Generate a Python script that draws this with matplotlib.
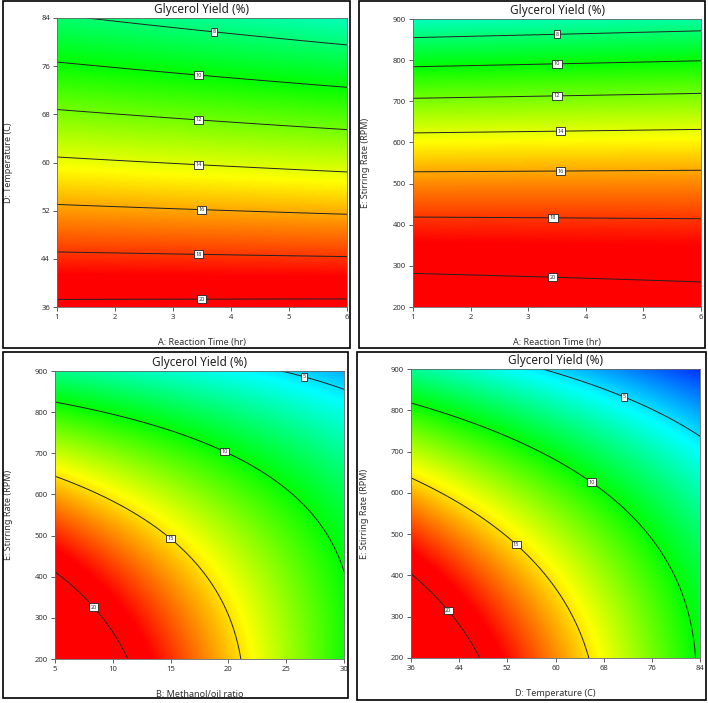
import numpy as np
import matplotlib
matplotlib.use("Agg")
import matplotlib.pyplot as plt
from matplotlib.colors import LinearSegmentedColormap
from matplotlib.patches import Rectangle

plt.rcParams['font.family'] = ['Noto Sans', 'DejaVu Sans']

# Response-surface model coefficients (coded units, -1..+1)
# term order: [const, x, y, x*y, y^2, x^2]
coef_AD = [13.893, -0.339, -6.457, -0.370, 0.001, 0.0]    # x = A: Reaction Time, y = D: Temperature
coef_AE = [15.618, 0.048, -6.931, 0.213, -1.781, 0.0]    # x = A: Reaction Time, y = E: Stirring Rate
coef_BE = [13.273, -4.072, -5.414, 2.347, -1.841, -0.122]  # x = B: Methanol/oil, y = E: Stirring Rate
coef_DE = [12.431, -4.709, -5.895, 1.945, -1.786, -0.099]  # x = D: Temperature, y = E: Stirring Rate

range_A = (1, 6)
range_B = (5, 30)
range_D = (36, 84)
range_E = (200, 900)

levels_top = [8, 10, 12, 14, 16, 18, 20]
levels_bottom = [5, 10, 15, 20]

ticks_A = [1, 2, 3, 4, 5, 6]
ticks_B = [5, 10, 15, 20, 25, 30]
ticks_D = [36, 44, 52, 60, 68, 76, 84]
ticks_E = [200, 300, 400, 500, 600, 700, 800, 900]

title = 'Glycerol Yield (%)'
label_A = 'A: Reaction Time (hr)'
label_B = 'B: Methanol/oil ratio'
label_D = 'D: Temperature (C)'
label_E = 'E: Stirring Rate (RPM)'

W, H = 708, 703
fig = plt.figure(figsize=(W/100, H/100), dpi=100)
cmap = LinearSegmentedColormap.from_list('de', [(0, 0, 1), (0, 1, 1), (0, 1, 0), (1, 1, 0), (1, 0, 0)])
VMIN, VMAX = 1, 19


def surface(c, x, y):
    return c[0] + c[1]*x + c[2]*y + c[3]*x*y + c[4]*y*y + c[5]*x*x


def panel(rect, xr, yr, c, levels, xticks, yticks, xlabel, ylabel, lpos, ylc, xlc):
    l, t, r, b = rect
    ax = fig.add_axes([l/W, 1-b/H, (r-l)/W, (b-t)/H])
    xs = np.linspace(xr[0], xr[1], 400)
    ys = np.linspace(yr[0], yr[1], 400)
    X, Y = np.meshgrid(xs, ys)
    Z = surface(c, (X-np.mean(xr))/(np.ptp(xr)/2), (Y-np.mean(yr))/(np.ptp(yr)/2))
    ax.imshow(Z, extent=[xr[0], xr[1], yr[0], yr[1]], origin='lower', aspect='auto',
              cmap=cmap, vmin=VMIN, vmax=VMAX, interpolation='bilinear')
    cs = ax.contour(X, Y, Z, levels=levels, colors='#222222', linewidths=0.7)
    lb = ax.clabel(cs, levels, inline=False, fontsize=4, fmt='%d', manual=lpos,
                   colors='#333333')
    for tx in lb:
        tx.set_rotation(0)
        tx.set_bbox(dict(facecolor='white', edgecolor='#222222', pad=1.0, linewidth=0.6))
    ax.set_xlim(*xr)
    ax.set_ylim(*yr)
    ax.set_xticks(xticks)
    ax.set_yticks(yticks)
    ax.tick_params(labelsize=5.5, length=3, width=0.6, colors='#444444', labelcolor='#333333', pad=2)
    for s in ax.spines.values():
        s.set_linewidth(0.6)
        s.set_color('#666666')
    ax.set_title(title, fontsize=8.5, pad=3.5, color='#222222')
    ax.set_xlabel(xlabel, fontsize=6.5, color='#333333', va='top')
    ax.set_ylabel(ylabel, fontsize=6.5, color='#333333')
    ax.xaxis.set_label_coords(0.5, xlc)
    ax.yaxis.set_label_coords(ylc, 0.5)
    return ax


panel((57, 18, 347, 307), range_A, range_D, coef_AD, levels_top, ticks_A, ticks_D, label_A, label_D,
      [(3.71, 82.2), (3.44, 75.07), (3.44, 67.6), (3.44, 60.1), (3.49, 52.7), (3.44, 45.3), (3.49, 37.8)],
      -0.152, -0.107)
panel((413, 19, 701, 307), range_A, range_E, coef_AE, levels_top, ticks_A, ticks_E, label_A, label_E,
      [(3.5, 870.8), (3.5, 799.4), (3.5, 720.8), (3.56, 635.6), (3.56, 538.3), (3.43, 424.7), (3.43, 279.6)],
      -0.149, -0.106)
panel((55, 371, 344, 659), range_B, range_E, coef_BE, levels_bottom, ticks_B, ticks_E, label_B, label_E,
      [(26.57, 889.5), (19.7, 705.5), (15.0, 493.3), (8.46, 329.5)], -0.144, -0.108)
panel((411, 369, 700, 658), range_D, range_E, coef_DE, levels_bottom, ticks_D, ticks_E, label_D, label_E,
      [(71.43, 833), (66.06, 627), (53.6, 477), (42.53, 319.5)], -0.145, -0.106)

for (l, t, r, b) in [(3, 1, 350, 348), (359, 1, 705, 348), (3, 352, 348, 698), (357, 352, 706, 700)]:
    fig.add_artist(Rectangle((l/W, 1-b/H), (r-l)/W, (b-t)/H, transform=fig.transFigure,
                             fill=False, edgecolor='black', linewidth=1.2))

fig.savefig('out.png', dpi=100)
